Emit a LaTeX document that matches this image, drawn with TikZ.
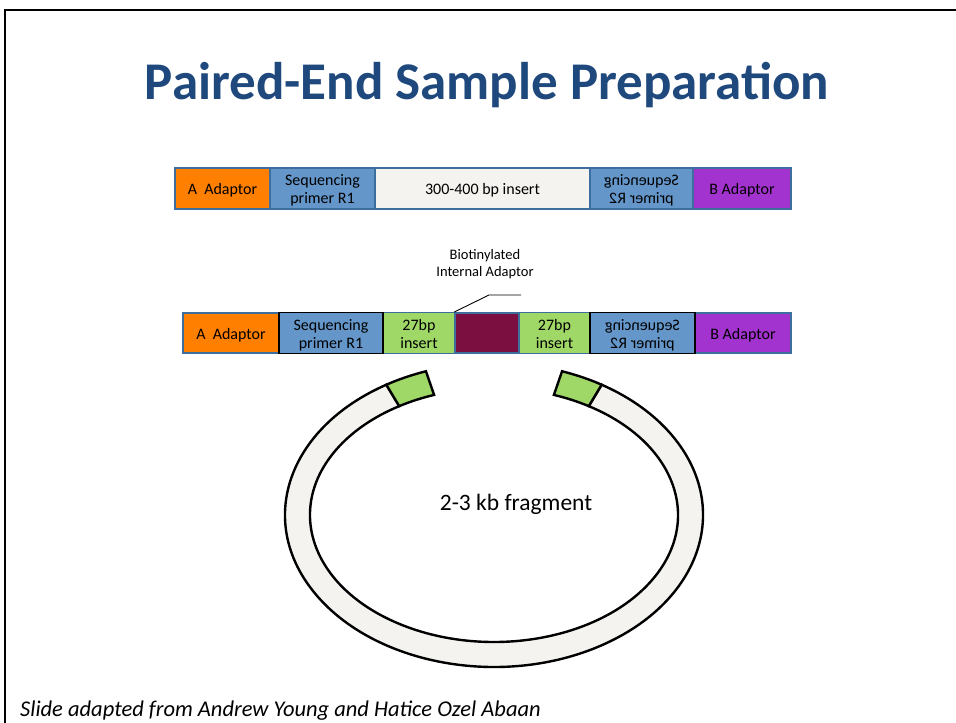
\documentclass[tikz,border=0pt]{standalone}
\usepackage{fontspec}
\setmainfont{Carlito}
\usetikzlibrary{calc}
\definecolor{adA}{RGB}{255,127,0}
\definecolor{primer}{RGB}{100,150,202}
\definecolor{insertfill}{RGB}{244,243,239}
\definecolor{adB}{RGB}{162,51,207}
\definecolor{greenins}{RGB}{160,216,103}
\definecolor{maroon}{RGB}{123,16,64}
\definecolor{borderblue}{RGB}{61,110,158}
\definecolor{titleblue}{RGB}{31,73,125}
\newcommand{\lowtxt}[1]{\raisebox{-2.5pt}[\dimexpr\height+2.5pt][\dimexpr\depth+2.5pt]{\begin{tabular}{@{}c@{}}#1\end{tabular}}}
\newcommand{\mirtxt}[1]{\scalebox{-1}[1]{\lowtxt{#1}}}
\begin{document}
\begin{tikzpicture}[x=1pt,y=1pt,
  box/.style={draw=borderblue,line width=1.8pt,inner sep=0pt,
    font=\fontsize{16}{18}\selectfont,text=black},
  blackbox/.style={box,draw=black},
  ringpart/.style={draw=black,line width=2.4pt,line join=miter}]
\useasboundingbox (0,0) rectangle (956,723);
% slide frame
\draw[line width=1.6pt] (5,0) -- (5,713) -- (956,713);
% title
\node[anchor=base,text=titleblue,font=\fontsize{53}{60}\selectfont\bfseries] (title) at (487,623) {Paired-End Sample Preparation};
% bar 1
\node[box,fill=adA,minimum width=95pt,minimum height=41pt] (A1) at (222.5,534.5) {\lowtxt{A\ \ Adaptor}};
\node[box,fill=primer,minimum width=105pt,minimum height=41pt] (P1) at (322.5,534.5) {\lowtxt{Sequencing\\primer R1}};
\node[box,fill=insertfill,minimum width=215pt,minimum height=41pt] (I1) at (482.5,534.5) {\lowtxt{300-400 bp insert}};
\node[box,fill=primer,minimum width=103pt,minimum height=41pt] (R1) at (641.5,534.5) {\mirtxt{Sequencing\\primer R2}};
\node[box,fill=adB,minimum width=98pt,minimum height=41pt] (B1) at (742,534.5) {\lowtxt{B Adaptor}};
% bar 2
\node[box,fill=adA,minimum width=96pt,minimum height=40pt] (A2) at (231,390) {\lowtxt{A\ \ Adaptor}};
\node[box,fill=greenins,minimum width=72pt,minimum height=40pt] (G2a) at (419,390) {\lowtxt{27bp\\insert}};
\node[box,fill=maroon,minimum width=64pt,minimum height=40pt] (M2) at (487,390) {};
\node[box,fill=greenins,minimum width=71pt,minimum height=40pt] (G2b) at (554.5,390) {\lowtxt{27bp\\insert}};
\node[box,fill=adB,minimum width=96pt,minimum height=40pt] (B2) at (743,390) {\lowtxt{B Adaptor}};
\node[blackbox,fill=primer,minimum width=104pt,minimum height=40pt] (P2) at (331,390) {\lowtxt{Sequencing\\primer R1}};
\node[blackbox,fill=primer,minimum width=105pt,minimum height=40pt] (R2) at (642.5,390) {\mirtxt{Sequencing\\primer R2}};
% label
\node[align=center,font=\fontsize{14.5}{17}\selectfont] (lbl) at (485,459) {Biotinylated\\Internal Adaptor};
\coordinate (k1) at (489,428);
\coordinate (k2) at (521,428);
\draw[line width=0.9pt] (M2.north west) -- (k1) -- (k2);
% ring
\coordinate (C) at (494,208);
\draw[ringpart,fill=insertfill]
  ($(C)+(121:209 and 152)$) arc[start angle=121,end angle=419,x radius=209,y radius=152]
  -- ($(C)+(419:184 and 127)$) arc[start angle=419,end angle=121,x radius=184,y radius=127] -- cycle;
\draw[ringpart,fill=greenins]
  ($(C)+(109:209 and 152)$) arc[start angle=109,end angle=121,x radius=209,y radius=152]
  -- ($(C)+(121:184 and 127)$) arc[start angle=121,end angle=109,x radius=184,y radius=127] -- cycle;
\draw[ringpart,fill=greenins]
  ($(C)+(59:209 and 152)$) arc[start angle=59,end angle=71,x radius=209,y radius=152]
  -- ($(C)+(71:184 and 127)$) arc[start angle=71,end angle=59,x radius=184,y radius=127] -- cycle;
\node[anchor=base,font=\fontsize{23.5}{27}\selectfont] (frag) at (516,212) {2-3 kb fragment};
% footer
\node[anchor=base west,inner sep=0pt,font=\fontsize{22.5}{26}\selectfont\itshape] (foot) at (20,6) {Slide adapted from Andrew Young and Hatice Ozel Abaan};
\end{tikzpicture}
\end{document}
